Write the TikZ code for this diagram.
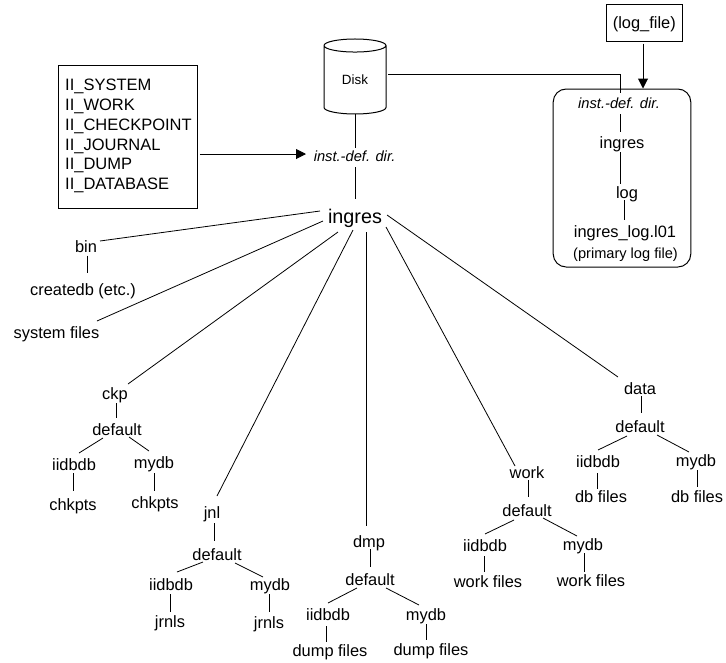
\documentclass[tikz,border=0pt]{standalone}
\usepackage{fontspec}
\setmainfont{Liberation Sans}
\usetikzlibrary{shapes.geometric,arrows.meta}
\newcommand{\lk}[4]{\draw[conn] ([shift={(#2)}]#1.center) -- ([shift={(#4)}]#3.center);}
\tikzset{
 x=1pt,y=-1pt,
 lbl/.style={inner sep=0pt,text height=14pt,text depth=2.5pt,font=\fontsize{16.4}{19}\selectfont},
 sm/.style={inner sep=0pt,text height=13pt,text depth=2pt,font=\fontsize{14.6}{17}\selectfont},
 itl/.style={inner sep=0pt,text height=12pt,text depth=2pt,font=\fontsize{14.7}{17}\selectfont\itshape},
 bigl/.style={inner sep=0pt,text height=17.5pt,text depth=3.2pt,font=\fontsize{19.8}{24}\selectfont},
 conn/.style={draw=black,line width=0.8pt},
 arr/.style={draw=black,line width=1pt,-{Triangle[length=10pt,width=10pt]}},
 boxed/.style={draw=black,line width=1pt,inner sep=0pt}
}
\begin{document}
\begin{tikzpicture}
\useasboundingbox (0,0) rectangle (726,662);
% disk
\node[cylinder,shape border rotate=90,draw=black,line width=1pt,aspect=0.5,minimum width=62pt,minimum height=75pt,inner sep=0pt,font=\fontsize{13.4}{15}\selectfont] (disk) at (355,80) {Disk};
\node[itl] (inst) at (354.6,156) {inst.-def. dir.};
\node[bigl] (ingres) at (355,216) {ingres};
% env box
\node[boxed,minimum width=139.5pt,minimum height=143pt,text width=126pt,align=left,font=\fontsize{16.5}{19.8}\selectfont] (env) at (128.2,136.5) {\rule{0pt}{2pt}\\[-11pt]II\_SYSTEM\\II\_WORK\\II\_CHECKPOINT\\II\_JOURNAL\\II\_DUMP\\II\_DATABASE};
\draw[arr] ([shift={(1.5,17.5)}]env.east) -- ([shift={(-48.6,-2)}]inst.center);
% log
\node[boxed,minimum width=76pt,minimum height=36.5pt,text height=14pt,text depth=2.5pt,font=\fontsize{16.4}{19}\selectfont] (logfile) at (644.3,22.8) {(log\_file)};
\node[draw=black,line width=1pt,rounded corners=13pt,minimum width=137.6pt,minimum height=178pt,anchor=north west] (logbox) at (552.7,88.5) {};
\draw[arr] ([shift={(-1.3,2)}]logfile.south) -- ([xshift=-1.3pt]logfile.south |- logbox.north);
\node[itl] (linst) at (619,103) {inst.-def. dir.};
\node[lbl] (lingres) at (622,143) {ingres};
\node[lbl] (llog) at (627,193) {log};
\node[lbl] (lfile) at (625,232) {ingres\_log.l01};
\node[sm] (lprim) at (625.5,253) {(primary log file)};
\coordinate (lcorner) at (620,74);
\draw[conn] ([shift={(33,-6)}]disk.center) -- (lcorner) -- ([shift={(1,-10)}]linst.center);
\lk{linst}{1,11}{lingres}{-2,-11}
\lk{lingres}{-1.5,9}{llog}{-6.5,-9}
\lk{llog}{-3,7}{lfile}{-1,-12}
\draw[conn] (disk.south) -- ([shift={(0.4,-8)}]inst.center);
\lk{inst}{0.4,11}{ingres}{0,-17}
% tree left
\node[lbl] (bin) at (86,246.5) {bin};
\node[lbl] (createdb) at (83,290) {createdb (etc.)};
\node[lbl] (sys) at (56.5,333) {system files};
\node[lbl] (ckp) at (115,394) {ckp};
\node[lbl] (ckpd) at (117,430) {default};
\node[lbl] (ckpi) at (74,465) {iidbdb};
\node[lbl] (ckpm) at (154,463) {mydb};
\node[lbl] (ckpif) at (73,505) {chkpts};
\node[lbl] (ckpmf) at (155,503) {chkpts};
\node[lbl] (jnl) at (212,513) {jnl};
\node[lbl] (jnld) at (217,555) {default};
\node[lbl] (jnli) at (171,585) {iidbdb};
\node[lbl] (jnlm) at (270,585) {mydb};
\node[lbl] (jnlif) at (170,622) {jrnls};
\node[lbl] (jnlmf) at (269,623) {jrnls};
\node[lbl] (dmp) at (369,542) {dmp};
\node[lbl] (dmpd) at (370,580) {default};
\node[lbl] (dmpi) at (328,615) {iidbdb};
\node[lbl] (dmpm) at (426,615) {mydb};
\node[lbl] (dmpif) at (330,651) {dump files};
\node[lbl] (dmpmf) at (431,650) {dump files};
\node[lbl] (work) at (527,473) {work};
\node[lbl] (workd) at (527,511) {default};
\node[lbl] (worki) at (485,546) {iidbdb};
\node[lbl] (workm) at (583,545) {mydb};
\node[lbl] (workif) at (488,582) {work files};
\node[lbl] (workmf) at (591,581) {work files};
\node[lbl] (data) at (640,389) {data};
\node[lbl] (datad) at (640,427) {default};
\node[lbl] (datai) at (598,462) {iidbdb};
\node[lbl] (datam) at (696,461) {mydb};
\node[lbl] (dataif) at (601,497) {db files};
\node[lbl] (datamf) at (697,497) {db files};
% connectors
\lk{ingres}{-35,-5}{bin}{14,-5.5}
\lk{bin}{1,9}{createdb}{4,-17.5}
\lk{ingres}{-32,5}{sys}{40.5,-12}
\lk{ingres}{-17,16}{ckp}{13,-10}
\lk{ingres}{-2,14}{jnl}{5,-17}
\lk{ingres}{11,16}{dmp}{-3,-16}
\lk{ingres}{31,11}{work}{-12,-7}
\lk{ingres}{32,-1}{data}{-22,-12}
% ckp
\lk{ckp}{1,9}{ckpd}{-1,-12}
\lk{ckpd}{-14,8}{ckpi}{5,-12}
\lk{ckpd}{12,7}{ckpm}{-5,-12}
\lk{ckpi}{-1,8}{ckpif}{0,-14}
\lk{ckpm}{0,10}{ckpmf}{-1,-12}
% jnl
\lk{jnl}{2,10}{jnld}{-3,-14}
\lk{jnld}{-14,7}{jnli}{6,-13}
\lk{jnld}{18,8}{jnlm}{-7,-8}
\lk{jnli}{-1,9}{jnlif}{0,-10}
\lk{jnlm}{-.5,9}{jnlmf}{.5,-11}
% dmp
\lk{dmp}{1,7}{dmpd}{0,-13}
\lk{dmpd}{-13,8}{dmpi}{0,-12}
\lk{dmpd}{16,8}{dmpm}{-7,-10}
\lk{dmpi}{-2,11}{dmpif}{-4,-9}
\lk{dmpm}{0,9}{dmpmf}{-5,-10}
% work
\lk{work}{1,7}{workd}{1,-14}
\lk{workd}{-13,9}{worki}{0,-12}
\lk{workd}{16,7}{workm}{-6,-9}
\lk{worki}{-1,10}{workif}{-4,-10}
\lk{workm}{1,8}{workmf}{-7,-9}
% data
\lk{data}{1,7}{datad}{1,-14}
\lk{datad}{-13,9}{datai}{0,-12}
\lk{datad}{17,8}{datam}{-7,-9}
\lk{datai}{-1,11}{dataif}{-4,-8}
\lk{datam}{1,9}{datamf}{0,-10}
\end{tikzpicture}
\end{document}
